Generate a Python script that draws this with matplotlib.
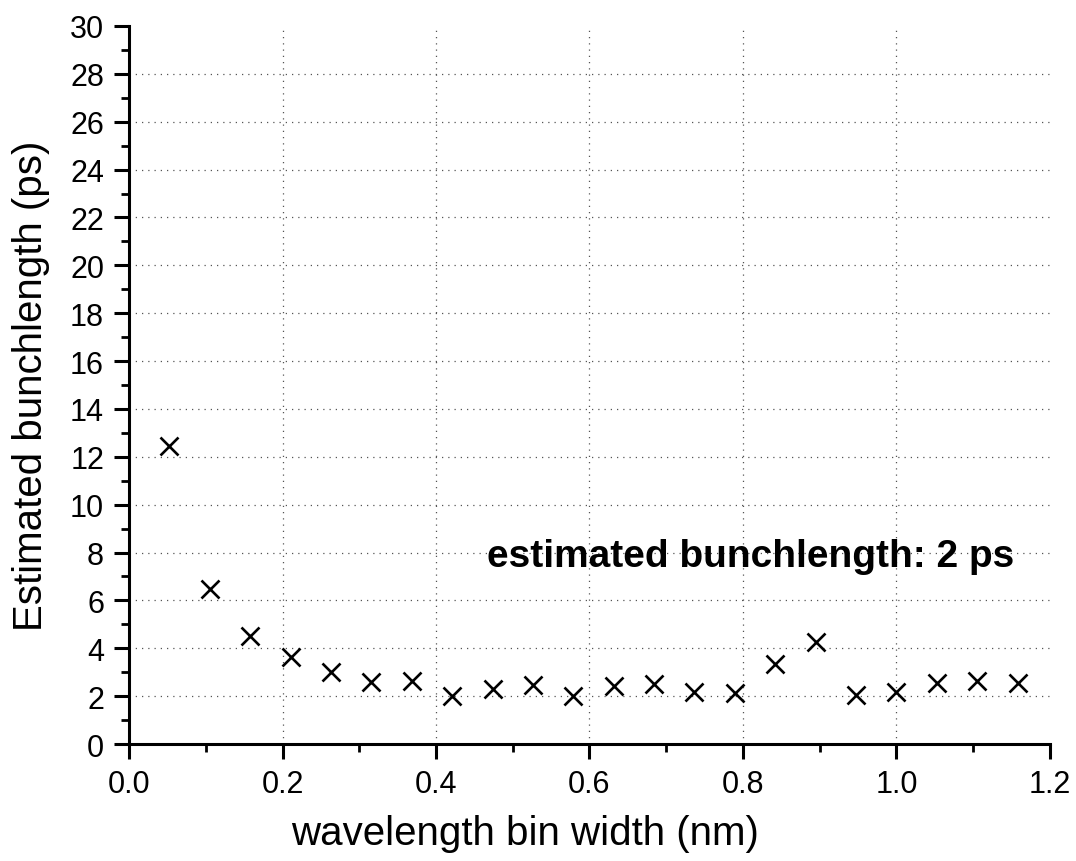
import numpy as np
import matplotlib.pyplot as plt
from matplotlib.ticker import MultipleLocator

plt.rcParams['font.family'] = ['Liberation Sans', 'DejaVu Sans']

# bin widths (nm) and estimated bunch lengths (ps)
bin_width = [0.0526, 0.1053, 0.1579, 0.2105, 0.2632, 0.3158, 0.3684, 0.4211,
             0.4737, 0.5263, 0.5789, 0.6316, 0.6842, 0.7368, 0.7895, 0.8421,
             0.8947, 0.9474, 1.0000, 1.0526, 1.1053, 1.1579]
bunch_len = [12.47, 6.47, 4.53, 3.63, 3.02, 2.6, 2.64, 2.02,
             2.3, 2.46, 2.0, 2.42, 2.49, 2.17, 2.12, 3.34,
             4.25, 2.04, 2.18, 2.57, 2.63, 2.55]

xticks = [0.0, 0.2, 0.4, 0.6, 0.8, 1.0, 1.2]
yticks = list(range(0, 31, 2))

fig = plt.figure(figsize=(10.76, 8.62), dpi=100)
ax = fig.add_axes([0.1199, 0.1357, 0.8559, 0.8330])

# dotted grid, only inside the frame
gkw = dict(linestyle=(0, (1, 4)), linewidth=0.9, color='#555555', zorder=1)
for v in xticks[1:-1]:
    ax.axvline(v, **gkw)
for v in yticks[1:-1]:
    ax.axhline(v, **gkw)

ax.plot(bin_width, bunch_len, linestyle='none', marker='x', color='black',
        markersize=13, markeredgewidth=1.9, zorder=3)

ax.set_xlim(0, 1.2)
ax.set_ylim(0, 30)
ax.set_xticks(xticks)
ax.set_xticklabels(['%.1f' % v for v in xticks])
ax.set_yticks(yticks)
ax.xaxis.set_minor_locator(MultipleLocator(0.1))
ax.yaxis.set_minor_locator(MultipleLocator(1))

for s in ['top', 'right']:
    ax.spines[s].set_visible(False)
for s in ['left', 'bottom']:
    ax.spines[s].set_linewidth(2.2)

ax.tick_params(which='major', direction='out', length=11, width=2.2,
               labelsize=22, pad=7)
ax.tick_params(which='minor', direction='out', length=6, width=2.0)

ax.set_xlabel('wavelength bin width (nm)', fontsize=29)
ax.xaxis.set_label_coords(0.43, -0.097)
ax.set_ylabel('Estimated bunchlength (ps)', fontsize=29)
ax.yaxis.set_label_coords(-0.086, 0.5)

ax.text(0.81, 7.85, 'estimated bunchlength: 2 ps', fontsize=28,
        fontweight='bold', ha='center', va='center')

fig.savefig('out.png', dpi=100)
